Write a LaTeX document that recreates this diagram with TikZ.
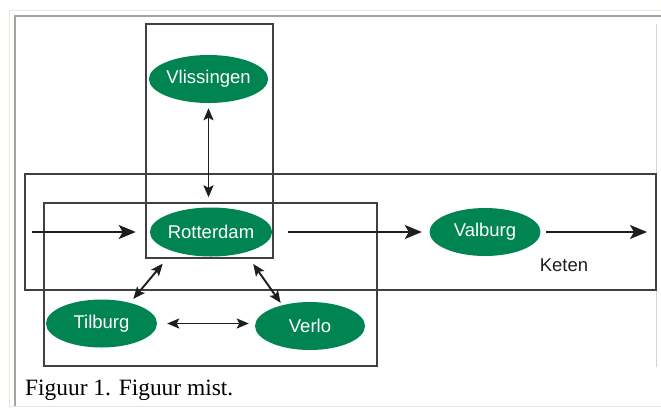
\documentclass[tikz,border=0pt]{standalone}
\usepackage{fontspec}
\setmainfont{Liberation Serif}
\newfontfamily\labelfont{Liberation Sans}
\usetikzlibrary{arrows.meta,shapes.geometric}

\definecolor{portgreen}{RGB}{0,132,82}
\definecolor{framebeige}{RGB}{236,232,216}
\definecolor{framegray}{RGB}{165,165,160}
\definecolor{edgegray}{RGB}{212,212,212}
\definecolor{ink}{RGB}{30,30,30}

\begin{document}
\begin{tikzpicture}[x=1pt,y=-1pt,
  port/.style={ellipse, fill=portgreen, text=white, inner sep=0pt,
    minimum width=111pt, minimum height=48pt,
    font=\labelfont\fontsize{18.5}{18.5}\selectfont},
  region/.style={draw=ink!85, line width=1.7pt},
  flow/.style={draw=ink, line width=1.9pt,
    -{Stealth[length=17pt,width=14pt,inset=4pt]}},
  link/.style={draw=ink, line width=1.9pt,
    {Stealth[length=12pt,width=10pt,inset=2.5pt]}-{Stealth[length=12pt,width=10pt,inset=2.5pt]}},
]
% page and frame
\useasboundingbox (0,0) rectangle (661,408);
\fill[white] (0,0) rectangle (661,408);
\draw[framebeige, line width=1pt] (9.5,408) -- (9.5,10.5) -- (661,10.5);
\draw[framebeige, line width=1pt] (9.5,406.5) -- (661,406.5);
\draw[framegray, line width=1.5pt] (14.75,406) -- (14.75,15.75) -- (661,15.75);
\draw[edgegray, line width=1.5pt] (656.5,24) -- (656.5,367);

% regions
\draw[region] (146,24) rectangle (273,258);
\draw[region] (25,174) rectangle (656,290);
\draw[region] (44,203) rectangle (377,366);

% ports
\node[port] (vlis) at (208.5,79) {Vlissingen};
\node[port, minimum width=112pt, minimum height=49pt] (rot) at (211,232) {Rotterdam};
\node[port] (val) at (485,232) {Valburg};
\node[port] (til) at (101.5,323.5) {Tilburg};
\node[port, minimum width=110pt] (ver) at (310,326) {Verlo};

% labels
\node[font=\labelfont\fontsize{18.5}{18.5}\selectfont, text=ink] (keten) at (564,265) {Keten};
\node[anchor=base west, inner sep=0pt, font=\fontsize{23.4}{24}\selectfont] (caption) at (25,395) {Figuur 1. Figuur mist.};

% chain ends
\coordinate (feed) at (32,232);
\coordinate (exit) at (647,232);

% flows along the chain
\draw[flow, shorten >=14pt] (feed) -- (rot.west);
\draw[flow, shorten <=16pt, shorten >=7.5pt] (rot.east) -- (val.west);
\draw[flow, shorten <=5.5pt] (val.east) -- (exit);

% two-way links
\draw[link, shorten <=5pt, shorten >=10pt] (vlis.south) -- (vlis.south |- rot.north);
\draw[link, shorten <=16pt, shorten >=5pt] (rot.207) -- (til.36);
\draw[link, shorten <=14pt, shorten >=2.7pt] (rot.329) -- (ver.143);
\draw[link, shorten <=10pt, shorten >=6pt] (til.east) -- (til.east -| ver.west);
\end{tikzpicture}
\end{document}
